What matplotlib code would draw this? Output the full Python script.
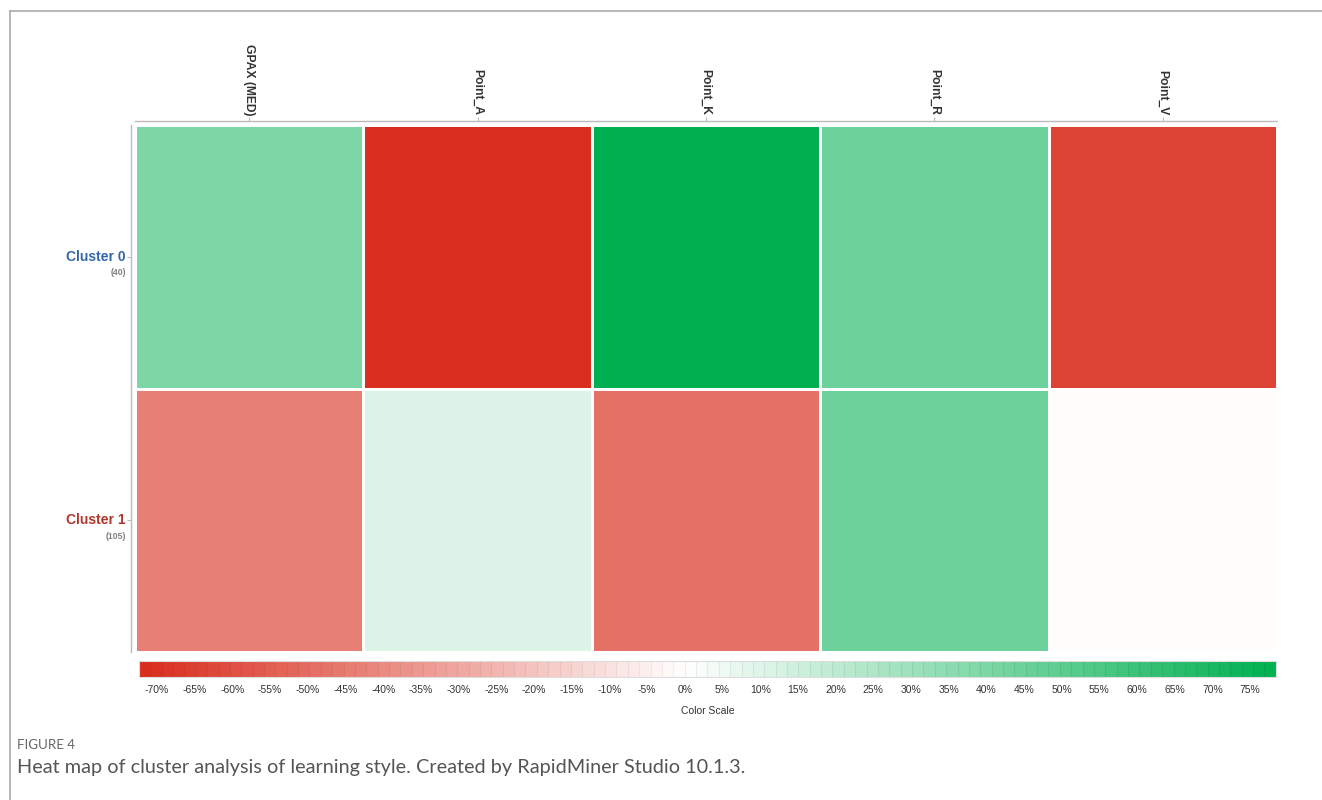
import numpy as np
import matplotlib
matplotlib.use("Agg")
import matplotlib.pyplot as plt
from matplotlib.colors import LinearSegmentedColormap, TwoSlopeNorm
from matplotlib.cm import ScalarMappable
from matplotlib.lines import Line2D

# data (percent deviation)
attributes = ["GPAX (MED)", "Point_A", "Point_K", "Point_R", "Point_V"]
clusters = ["Cluster 0", "Cluster 1"]
cluster_sizes = [40, 105]
cluster_colors = ["#3467A8", "#B0362B"]
values = [
    [40, -71, 78, 45, -64],
    [-44, 11, -49, 45, -1],
]
scale_min, scale_max = -72.4, 78.4
scale_ticks = list(range(-70, 80, 5))

plt.rcParams['font.family'] = ['Liberation Sans', 'DejaVu Sans']

cmap = LinearSegmentedColormap.from_list("rg", ["#D92C1C", "#FFFFFF", "#00B050"])
norm = TwoSlopeNorm(vmin=scale_min, vcenter=0, vmax=scale_max)

fig = plt.figure(figsize=(13.22, 8), dpi=100)

# heat map
ax = fig.add_axes([0.1021, 0.185, 0.8638, 0.65875])
data = np.array(values)
ax.pcolormesh(data, cmap=cmap, norm=norm, edgecolors="white", linewidth=1.8)
ax.set_xlim(0, len(attributes))
ax.set_ylim(len(clusters), 0)

for side in ["right", "bottom"]:
    ax.spines[side].set_visible(False)
for side in ["top", "left"]:
    ax.spines[side].set_position(("outward", 3))
    ax.spines[side].set_color("#bbbbbb")
    ax.spines[side].set_linewidth(1)

ax.xaxis.tick_top()
ax.set_xticks(np.arange(len(attributes)) + 0.5)
ax.set_xticklabels(attributes, rotation=270, fontsize=8.7, fontweight="bold",
                   color="#333333", va="bottom", ha="center")
ax.set_yticks(np.arange(len(clusters)) + 0.5)
ax.set_yticklabels([])
ax.tick_params(axis="both", length=3, color="#bbbbbb", pad=1)

for i, (name, n, c) in enumerate(zip(clusters, cluster_sizes, cluster_colors)):
    ax.text(-0.008, i + 0.5, name, transform=ax.get_yaxis_transform(),
            ha="right", va="center", fontsize=10, fontweight="bold", color=c)
    ax.text(-0.008, i + 0.56, "(%d)" % n, transform=ax.get_yaxis_transform(),
            ha="right", va="center", fontsize=6.3, fontweight="bold", color="#808080")

# colour scale
cax = fig.add_axes([0.1051, 0.15375, 0.860, 0.02])
sm = ScalarMappable(norm=norm, cmap=cmap)
cb = fig.colorbar(sm, cax=cax, orientation="horizontal",
                  boundaries=np.linspace(scale_min, scale_max, 101),
                  drawedges=True)
cb.dividers.set_color((0, 0, 0, 0.06))
cb.dividers.set_linewidth(0.8)
cb.outline.set_edgecolor("#dddddd")
cb.set_ticks(scale_ticks)
cb.set_ticklabels(["%d%%" % t for t in scale_ticks])
cax.tick_params(length=0, labelsize=7.5, labelcolor="#333333", pad=6)
cb.set_label("Color Scale", fontsize=7.5, color="#333333", labelpad=8)

# frame and caption
fig.add_artist(Line2D([10 / 1322, 1], [0.986, 0.986], color="#aaaaaa", lw=1.2))
fig.add_artist(Line2D([10 / 1322, 10 / 1322], [0, 0.986], color="#aaaaaa", lw=1.2))
fig.text(17 / 1322, 0.069, "FIGURE 4", fontsize=9.6, color="#666666",
         family=["Lato", "DejaVu Sans"], va="center")
fig.text(17 / 1322, 0.04,
         "Heat map of cluster analysis of learning style. Created by RapidMiner Studio 10.1.3.",
         fontsize=14.3, color="#555555", family=["Lato", "DejaVu Sans"], va="center")

fig.savefig("out.png", dpi=100)
